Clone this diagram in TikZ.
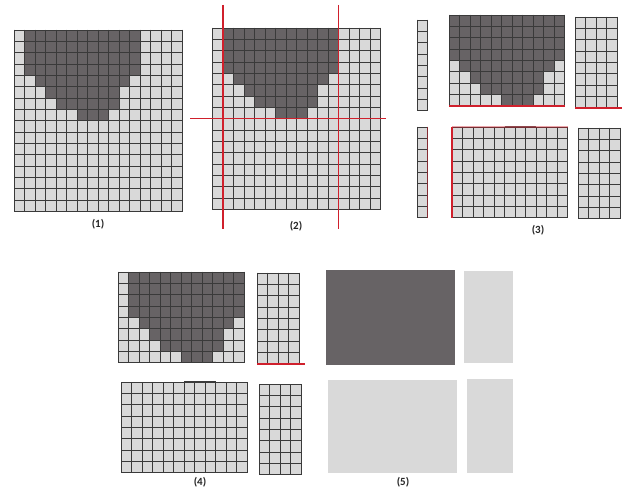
\documentclass[tikz,border=0pt]{standalone}
\usepackage{fontspec}
\setmainfont{Carlito}
\definecolor{lightcell}{HTML}{D9D9D9}
\definecolor{darkcell}{HTML}{676365}
\definecolor{cellline}{HTML}{3A3A3A}
\definecolor{cutred}{HTML}{D0202C}

% one block of the 16x16 grid: top-left x, y, first col, first row, last col, last row
\newcommand{\gridpiece}[6]{%
  \begin{scope}[shift={(#1,#2)}, x=10.5pt, y=-11.35pt, shift={(-#3,-#4)}]
    \begin{scope}
      \clip (#3,#4) rectangle (#5,#6);
      \fill[lightcell] (#3,#4) rectangle (#5,#6);
      \foreach \rw/\a/\b in {0/1/12, 1/1/12, 2/1/12, 3/1/12, 4/2/11, 5/3/10, 6/4/10, 7/6/9}
        \fill[darkcell] (\a,\rw) rectangle (\b,\rw+1);
    \end{scope}
    \foreach \i in {#3,...,#5} \draw[gridln] (\i,#4) -- (\i,#6);
    \foreach \j in {#4,...,#6} \draw[gridln] (#3,\j) -- (#5,\j);
  \end{scope}}

\begin{document}
\begin{tikzpicture}[x=1pt, y=-1pt,
    gridln/.style={draw=cellline, line width=0.9pt, line cap=rect},
    cut/.style={draw=cutred, line width=1.2pt},
    edgecut/.style={draw=cutred, line width=1.6pt},
    lbl/.style={font=\fontsize{11}{13}\selectfont\bfseries, text=black!85}]
  \useasboundingbox (0,0) rectangle (627,497);

  % (1) full grid
  \gridpiece{14}{30}{0}{0}{16}{16}
  \node[lbl] (l1) at (98,224) {(1)};

  % (2) grid with cut lines
  \gridpiece{212.5}{28}{0}{0}{16}{16}
  \draw[cut] (223,5) -- (223,229);
  \draw[cut] (338.5,5) -- (338.5,229);
  \draw[cut] (190,118.8) -- (386,118.8);
  \node[lbl] (l2) at (296,226) {(2)};

  % (3) cut blocks
  \gridpiece{417}{20}{0}{0}{1}{8}
  \gridpiece{449}{15}{1}{0}{12}{8}
  \gridpiece{575}{17}{12}{0}{16}{8}
  \gridpiece{417}{127}{0}{8}{1}{16}
  \gridpiece{452}{127}{1}{8}{12}{16}
  \gridpiece{578}{128}{12}{8}{16}{16}
  \draw[edgecut] (449,106) -- (564.5,106);
  \draw[edgecut] (575,108) -- (622,108);
  \draw[cut, draw opacity=0.5] (427.5,127) -- (427.5,217.8);
  \draw[edgecut] (452,217.8) -- (452,127);
  \draw[cut, draw opacity=0.4] (452,127) -- (567.5,127);
  \node[lbl] (l3) at (538,230) {(3)};

  % (4) merged blocks
  \gridpiece{118}{272}{0}{0}{12}{8}
  \gridpiece{257}{273}{12}{0}{16}{8}
  \gridpiece{121}{382}{0}{8}{12}{16}
  \gridpiece{259}{384}{12}{8}{16}{16}
  \draw[edgecut] (257,364) -- (305,364);
  \draw[draw=cellline, line width=1.6pt] (184,382) -- (215.5,382);
  \node[lbl] (l4) at (200,482) {(4)};

  % (5) filled blocks
  \fill[darkcell] (326,270) rectangle (455,365);
  \fill[lightcell] (464,271) rectangle (513,363);
  \fill[lightcell] (328,380) rectangle (457,473);
  \fill[lightcell] (467,379) rectangle (513,473);
  \node[lbl] (l5) at (403,482) {(5)};
\end{tikzpicture}
\end{document}
